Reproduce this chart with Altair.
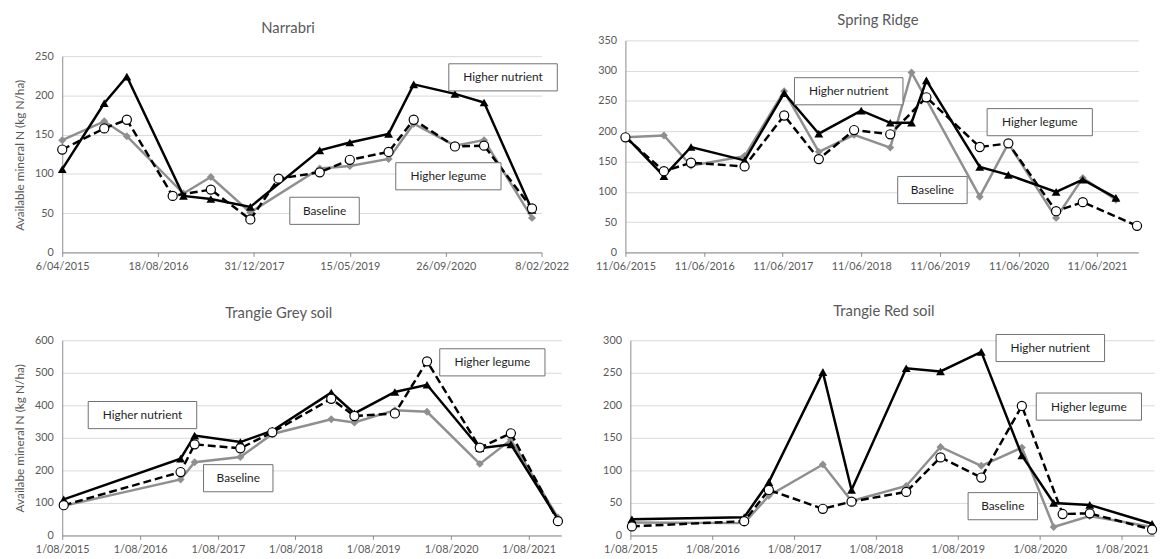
import altair as alt
import pandas as pd

FONT = "Lato"
TXT = "#595959"
AXC = "#8a8a8a"
GRID = "#d9d9d9"
GREYLINE = "#8f8f8f"

# ---------------- data ----------------
# Narrabri
nar_dates = ["2015-04-06", "2015-11-11", "2016-03-08", "2016-12-28", "2017-05-20", "2017-12-12",
             "2018-12-09", "2019-05-15", "2019-12-03", "2020-04-12", "2020-11-13", "2021-04-14", "2021-12-20"]
nar_hn = [106, 190, 224, 72, 68, 58, 130, 140, 151, 214, 202, 191, 54]
nar_bl = [143, 167, 148, 75, 96, 51, 107, 110, 119, 164, 136, 143, 44]
nar_hl_dates = ["2015-04-06", "2015-11-11", "2016-03-08", "2016-11-02", "2017-05-20", "2017-12-12", "2018-05-08",
                "2018-12-09", "2019-05-15", "2019-12-03", "2020-04-12", "2020-11-13", "2021-04-14", "2021-12-20"]
nar_hl = [131, 158, 169, 72, 80, 42, 94, 102, 118, 128, 169, 135, 136, 56]

# Spring Ridge
sr_hn_dates = ["2015-06-11", "2015-12-07", "2016-04-11", "2016-12-16", "2017-06-18", "2017-11-26", "2018-06-11",
               "2018-10-24", "2019-01-31", "2019-04-10", "2019-12-14", "2020-04-25", "2020-12-03", "2021-04-06",
               "2021-09-07"]
sr_hn = [192, 126, 174, 152, 263, 196, 234, 214, 214, 284, 141, 128, 100, 120, 90]
sr_bl_dates = ["2015-06-11", "2015-12-07", "2016-04-11", "2016-12-16", "2017-06-18", "2017-11-26", "2018-05-09",
               "2018-10-24", "2019-01-31", "2019-12-14", "2020-04-25", "2020-12-03", "2021-04-06", "2021-09-07"]
sr_bl = [190, 193, 143, 159, 266, 166, 194, 173, 297, 92, 180, 57, 123, 87]
sr_hl_dates = ["2015-06-11", "2015-12-07", "2016-04-11", "2016-12-16", "2017-06-18", "2017-11-26", "2018-05-09",
               "2018-10-24", "2019-04-10", "2019-12-14", "2020-04-25", "2020-12-03", "2021-04-06", "2021-12-14"]
sr_hl = [190, 134, 148, 142, 226, 154, 202, 195, 256, 174, 180, 68, 83, 44]

# Trangie Grey soil
tg_dates = ["2015-08-08", "2017-02-07", "2017-04-14", "2017-11-15", "2018-04-14", "2019-01-16",
            "2019-05-05", "2019-11-11", "2020-04-10", "2020-12-14", "2021-05-09", "2021-12-16"]
tg_hn = [111, 236, 307, 287, 322, 439, 375, 441, 463, 268, 280, 50]
tg_hl = [93, 195, 280, 268, 317, 420, 367, 375, 535, 270, 314, 44]
tg_bl = [91, 172, 225, 241, 312, 357, 347, 385, 380, 220, 294, 55]

# Trangie Red soil
tr_dates = ["2015-08-08", "2016-12-21", "2017-04-10", "2017-12-07", "2018-04-14", "2018-12-14",
            "2019-05-16", "2019-11-14", "2020-05-13", "2020-10-02", "2021-03-12", "2021-12-15"]
tr_hn = [25, 28, 82, 251, 70, 257, 252, 282, 123, 50, 47, 18]
tr_bl = [20, 19, 61, 109, 53, 76, 136, 107, 135, 13, 30, 13]
tr_hl_dates = ["2015-08-08", "2016-12-21", "2017-04-10", "2017-12-07", "2018-04-14", "2018-12-14",
               "2019-05-16", "2019-11-14", "2020-05-13", "2020-11-11", "2021-03-12", "2021-12-15"]
tr_hl = [14, 22, 70, 41, 52, 67, 120, 89, 199, 33, 34, 9]

# annotation labels (label, date, value)
LABELS = ["Higher nutrient", "Higher legume", "Baseline"]
nar_box_dates = ["2021-07-22", "2020-10-10", "2019-01-03"]
nar_box_vals = [223, 97, 53]
sr_box_dates = ["2018-04-14", "2020-09-18", "2019-05-08"]
sr_box_vals = [266, 215, 103]
tg_box_dates = ["2016-08-12", "2021-02-11", "2017-11-05"]
tg_box_vals = [370, 532, 176]
tr_box_dates = ["2020-09-17", "2021-03-08", "2020-02-18"]
tr_box_vals = [288, 198, 45]

# axis ticks
nar_xticks = ["2015-04-06", "2016-08-18", "2017-12-31", "2019-05-15", "2020-09-26", "2022-02-08"]
sr_xticks = ["2015-06-11", "2016-06-11", "2017-06-11", "2018-06-11", "2019-06-11", "2020-06-11", "2021-06-11"]
tg_xticks = ["2015-08-01", "2016-08-01", "2017-08-01", "2018-08-01", "2019-08-01", "2020-08-01", "2021-08-01"]
nar_yticks = [0, 50, 100, 150, 200, 250]
sr_yticks = [0, 50, 100, 150, 200, 250, 300, 350]
tg_yticks = [0, 100, 200, 300, 400, 500, 600]
tr_yticks = [0, 50, 100, 150, 200, 250, 300]

# box shapes (normalised to a 110 px wide symbol)
BOX_PATHS = [
    "M-1,-0.25L1,-0.25L1,0.25L-1,0.25Z",
    "M-0.97,-0.25L0.97,-0.25L0.97,0.25L-0.97,0.25Z",
    "M-0.64,-0.25L0.64,-0.25L0.64,0.25L-0.64,0.25Z",
]


def dt(s):
    y, m, d = map(int, s.split("-"))
    return alt.DateTime(year=y, month=m, date=d, utc=True)


def panel(title, tdx, toff, hn_d, hn_v, hl_d, hl_v, bl_d, bl_v, bx_d, bx_v,
          xdom, xticks, ydom, yticks, width, height, xrange, yrange, ytitle, ytitle_y, yoff=0):
    xscale = alt.Scale(type="utc", domain=[dt(xdom[0]), dt(xdom[1])])
    if xrange:
        xscale = alt.Scale(type="utc", domain=[dt(xdom[0]), dt(xdom[1])], range=xrange)
    xenc = alt.X(
        "date:T",
        scale=xscale,
        axis=alt.Axis(values=[dt(v) for v in xticks],
                      labelExpr="utcFormat(datum.value, '%-d/%m/%Y')",
                      grid=False, domainColor=AXC, tickColor=AXC, tickSize=4,
                      labelFont=FONT, labelFontSize=11, labelColor=TXT, labelPadding=4,
                      labelOverlap=False, labelFlush=False, title=None),
    )
    yaxis_kw = dict(values=yticks, grid=True, gridColor=GRID, ticks=False, domain=True,
                    domainColor=AXC, labelFont=FONT, labelFontSize=11, labelColor=TXT,
                    labelPadding=9, title=ytitle)
    if yoff:
        yaxis_kw.update(offset=yoff)
    if ytitle is not None:
        yaxis_kw.update(titleFont=FONT, titleFontSize=12, titleFontWeight="normal",
                        titleColor=TXT, titlePadding=8, titleY=ytitle_y)
    yscale = alt.Scale(domain=ydom, range=yrange) if yrange else alt.Scale(domain=ydom)
    yenc = alt.Y("value:Q", scale=yscale, axis=alt.Axis(**yaxis_kw))

    hn = pd.DataFrame({"date": hn_d, "value": hn_v})
    hl = pd.DataFrame({"date": hl_d, "value": hl_v})
    bl = pd.DataFrame({"date": bl_d, "value": bl_v})
    bx = pd.DataFrame({"date": bx_d, "value": bx_v, "label": LABELS})

    layers = [
        alt.Chart(bl).mark_line(color=GREYLINE, strokeWidth=2.5).encode(x=xenc, y=yenc),
        alt.Chart(bl).mark_point(shape="diamond", filled=True, color=GREYLINE, size=65, opacity=1).encode(x=xenc, y=yenc),
        alt.Chart(hn).mark_line(color="#000000", strokeWidth=2.5).encode(x=xenc, y=yenc),
        alt.Chart(hn).mark_point(shape="triangle-up", filled=True, color="#000000", size=80, opacity=1).encode(x=xenc, y=yenc),
        alt.Chart(hl).mark_line(color="#000000", strokeWidth=2.5, strokeDash=[8, 4]).encode(x=xenc, y=yenc),
        alt.Chart(hl).mark_point(shape="circle", filled=True, fill="white", stroke="#000000", strokeWidth=1.2,
                                 size=85, opacity=1).encode(x=xenc, y=yenc),
        alt.Chart(bx).mark_point(filled=True, fill="white", stroke="#6f6f6f", strokeWidth=1, opacity=1,
                                 size=12100).encode(
            x=xenc, y=yenc,
            shape=alt.Shape("label:N", scale=alt.Scale(domain=LABELS, range=BOX_PATHS), legend=None)),
        alt.Chart(bx).mark_text(font=FONT, fontSize=12, color="#1e1e1e").encode(x=xenc, y=yenc, text="label:N"),
    ]
    return alt.layer(*layers).properties(
        width=width, height=height,
        title=alt.TitleParams(text=title, font=FONT, fontSize=15, fontWeight="normal", color=TXT,
                              offset=toff, dx=tdx, frame="group", baseline="middle"),
    )


p1 = panel("Narrabri", -14, -3, nar_dates, nar_hn, nar_hl_dates, nar_hl, nar_dates, nar_bl,
           nar_box_dates, nar_box_vals, ["2015-04-06", "2022-02-08"], nar_xticks, [0, 250], nar_yticks,
           486, 215, None, [215, 16], "Available mineral N (kg N/ha)", 116)
p2 = panel("Spring Ridge", -4, 0, sr_hn_dates, sr_hn, sr_hl_dates, sr_hl, sr_bl_dates, sr_bl,
           sr_box_dates, sr_box_vals, ["2015-06-11", "2021-12-20"], sr_xticks, [0, 350], sr_yticks,
           520, 215, None, None, None, None)
p3 = panel("Trangie Grey soil", -26, 7, tg_dates, tg_hn, tg_dates, tg_hl, tg_dates, tg_bl,
           tg_box_dates, tg_box_vals, ["2015-08-01", "2022-01-01"], tg_xticks, [0, 600], tg_yticks,
           491, 198, [0, 506], None, "Availabe mineral N (kg N/ha)", 99)
p4 = panel("Trangie Red soil", -4, 7, tr_dates, tr_hn, tr_hl_dates, tr_hl, tr_dates, tr_bl,
           tr_box_dates, tr_box_vals, ["2015-08-01", "2021-12-24"], tg_xticks, [0, 300], tr_yticks,
           532, 198, [5, 536], None, None, None, yoff=-5)

chart = alt.concat(p1, p2, p3, p4, columns=2, spacing={"row": 89, "column": 80},
                   bounds="flush", align="none").properties(
    padding={"left": 5, "top": 1, "right": 0, "bottom": 0}
).configure_view(stroke=None)

chart.save("out.html", embed_options={"renderer": "svg", "actions": False})
